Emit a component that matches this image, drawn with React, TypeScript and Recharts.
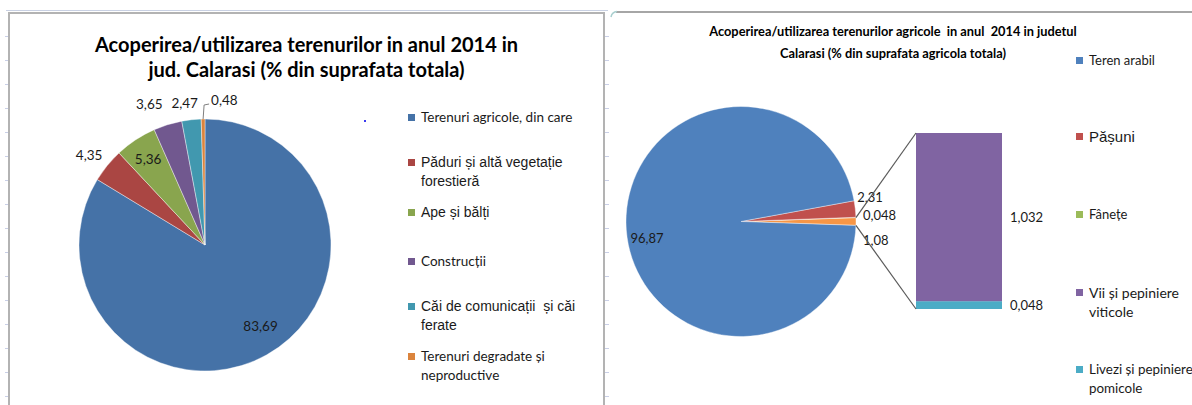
import { PieChart, Pie, Cell, BarChart, Bar, XAxis, YAxis, LabelList } from 'recharts';

// ── Data ──────────────────────────────────────────────────────────────────────

const landNames = [
    'Terenuri agricole, din care',
    'Păduri și altă vegetație forestieră',
    'Ape și bălți',
    'Construcții',
    'Căi de comunicații  și căi ferate',
    'Terenuri degradate și neproductive',
];
const landShares = [83.69, 4.35, 5.36, 3.65, 2.47, 0.48];
const landLegendLines = [
    ['Terenuri agricole, din care'],
    ['Păduri și altă vegetație', 'forestieră'],
    ['Ape și bălți'],
    ['Construcții'],
    ['Căi de comunicații  și căi', 'ferate'],
    ['Terenuri degradate și', 'neproductive'],
];

const agriNames = ['Teren arabil', 'Pășuni', 'Fânețe'];
const agriShares = [96.87, 2.31, 0.048];
const otherName = 'Altele';
const otherShare = 1.08;
const otherNames = ['Vii și pepiniere viticole', 'Livezi și pepiniere pomicole'];
const otherShares = [1.032, 0.048];
const agriLegendLines = [
    ['Teren arabil'],
    ['Pășuni'],
    ['Fânețe'],
    ['Vii și pepiniere', 'viticole'],
    ['Livezi și pepiniere', 'pomicole'],
];

const leftTitle = ['Acoperirea/utilizarea terenurilor in anul 2014 in', 'jud. Calarasi (% din suprafata totala)'];
const rightTitle = [
    'Acoperirea/utilizarea terenurilor agricole  in anul  2014 in judetul',
    'Calarasi (% din suprafata agricola totala)',
];

// ── Style ─────────────────────────────────────────────────────────────────────

const CALIBRI = 'Lato, "Open Sans", sans-serif';
const ARIAL = '"Liberation Sans", Arial, sans-serif';
const TEXT = '#1a1a1a';

const landColors = ['#4572A7', '#AA4643', '#89A54E', '#71588F', '#4198AF', '#DB843D'];
const agriColors = ['#4F81BD', '#C0504D', '#9BBB59'];
const otherColors = ['#8064A2', '#4BACC6'];
const otherSliceColor = '#F79646';

const fmt = (v: number) => String(v).replace('.', ',');
const RAD = Math.PI / 180;
const polar = (cx: number, cy: number, r: number, a: number) => ({
    x: cx + r * Math.cos(-a * RAD),
    y: cy + r * Math.sin(-a * RAD),
});

// ── Left chart ────────────────────────────────────────────────────────────────

const L = { left: 9, top: 13, width: 595, height: 392, cx: 196, cy: 232, r: 126 };

const landData = landNames.map((name, i) => ({ name, value: landShares[i] }));

const landLabelPos = [
    { k: 0.77, dx: 8, dy: -4 },
    { k: 1.165, dx: -2, dy: 3 },
    { k: 0.82, dx: 0, dy: 0 },
    { k: 1.2, dx: -11, dy: 3 },
    { k: 1.13, dx: -5, dy: 0 },
    { k: 1, dx: 0, dy: 0 },
];

function LandLabel(props: any) {
    const { cx, cy, midAngle, outerRadius, index, value } = props;
    const pos = landLabelPos[index];
    const p = polar(cx, cy, outerRadius * pos.k, midAngle);
    const style = { fontFamily: CALIBRI, fontSize: 13.5, fill: TEXT };
    if (index === landShares.length - 1) {
        // smallest slice gets a leader line
        return (
            <g>
                <polyline
                    points={`${p.x},${p.y} ${p.x + 1},${p.y - 14} ${p.x + 6},${p.y - 15}`}
                    fill="none"
                    stroke="#7f7f7f"
                    strokeWidth={1}
                />
                <text x={p.x + 8} y={p.y - 19} textAnchor="start" dominantBaseline="central" style={style}>
                    {fmt(value)}
                </text>
            </g>
        );
    }
    return (
        <text x={p.x + pos.dx} y={p.y + pos.dy} textAnchor="middle" dominantBaseline="central" style={style}>
            {fmt(value)}
        </text>
    );
}

// ── Right chart ───────────────────────────────────────────────────────────────

const R = { left: 614, top: 12, width: 578, height: 393, cx: 127, cy: 209.5, r: 115 };

// pie runs counter-clockwise from the "other" slice, which faces the bar
const agriPieData = [
    { name: otherName, value: otherShare, color: otherSliceColor },
    ...agriNames.map((name, i) => ({ name, value: agriShares[i], color: agriColors[i] })).reverse(),
];
const agriTotal = agriPieData.reduce((s, d) => s + d.value, 0);
const halfOther = (otherShare / agriTotal) * 180;

const agriLabelPos = [
    { k: 1, dx: 7, dy: 18.5, anchor: 'start' },
    { k: 1, dx: 7, dy: -2, anchor: 'start' },
    { k: 1, dx: 2, dy: -12, anchor: 'start' },
    { k: 0.82, dx: 0, dy: 9.5, anchor: 'middle' },
];

function AgriLabel(props: any) {
    const { cx, cy, midAngle, outerRadius, index, value } = props;
    const pos = agriLabelPos[index];
    const p = polar(cx, cy, outerRadius * pos.k, midAngle);
    return (
        <text
            x={p.x + pos.dx}
            y={p.y + pos.dy}
            textAnchor={pos.anchor}
            dominantBaseline="central"
            style={{ fontFamily: CALIBRI, fontSize: 13, fill: TEXT }}
        >
            {fmt(value)}
        </text>
    );
}

const barRow = [{ name: otherName, s0: otherShares[0], s1: otherShares[1] }];

// stacked segment + the connector to the pie's "other" slice
function makeSegment(edgeAngle: number, fromTop: boolean) {
    return (props: any) => {
        const { x, y, width, height, fill } = props;
        const p = polar(R.cx, R.cy, R.r, edgeAngle);
        const by = fromTop ? y : y + height;
        return (
            <g>
                <rect x={x} y={y} width={width} height={height} fill={fill} />
                <line x1={p.x} y1={p.y} x2={x} y2={by} stroke="#595959" strokeWidth={1.2} />
            </g>
        );
    };
}

// ── Legend ────────────────────────────────────────────────────────────────────

interface LegendEntry {
    lines: string[];
    color: string;
    font: string;
    size: number;
    y: number;
}

function HtmlLegend({ x, items }: { x: number; items: LegendEntry[] }) {
    return (
        <>
            {items.map((it, i) => (
                <div
                    key={i}
                    style={{
                        position: 'absolute',
                        left: x,
                        top: it.y - 9.5,
                        display: 'flex',
                        alignItems: 'flex-start',
                        fontFamily: it.font,
                        fontSize: it.size,
                        lineHeight: '19px',
                        color: TEXT,
                        whiteSpace: 'pre',
                    }}
                >
                    <span style={{ width: 7, height: 7, background: it.color, marginTop: 6, marginRight: 6, flex: 'none' }} />
                    <div>
                        {it.lines.map((ln, j) => (
                            <div key={j}>{ln}</div>
                        ))}
                    </div>
                </div>
            ))}
        </>
    );
}

const landLegend: LegendEntry[] = landLegendLines.map((lines, i) => ({
    lines,
    color: landColors[i],
    font: [CALIBRI, ARIAL, ARIAL, CALIBRI, ARIAL, CALIBRI][i],
    size: [13.5, 14, 14, 13.5, 14, 13.5][i],
    y: [117, 162, 212, 261, 306, 356][i],
}));

const agriLegend: LegendEntry[] = agriLegendLines.map((lines, i) => ({
    lines,
    color: [...agriColors, ...otherColors][i],
    font: [CALIBRI, ARIAL, CALIBRI, CALIBRI, CALIBRI][i],
    size: [13, 15, 13, 14, 13.4][i],
    y: [60, 136, 214, 292, 369][i],
}));

// ── Sheet decoration ──────────────────────────────────────────────────────────

const rowTicks = Array.from({ length: 16 }, (_, i) => 36 + i * 24);

function Sheet() {
    const line = (s: React.CSSProperties) => <div style={{ position: 'absolute', ...s }} />;
    return (
        <>
            {line({ left: 6, top: 10, width: 602, height: 1, background: '#c9d1e3' })}
            {line({ left: 8, top: 12, width: 597, height: 2, background: '#b3b3b3' })}
            {line({ left: 8, top: 12, width: 2, height: 393, background: '#b3b3b3' })}
            {line({ left: 603, top: 12, width: 2, height: 393, background: '#b3b3b3' })}
            {line({ left: 616, top: 11, width: 576, height: 1.5, background: '#a6a6a6' })}
            <svg style={{ position: 'absolute', left: 610, top: 10 }} width={8} height={8}>
                <path d="M1 7 Q2 2 7 1.6" fill="none" stroke="#a9cfcf" strokeWidth={1.5} />
            </svg>
            {rowTicks.map((y) => (
                <div key={`a${y}`}>
                    {line({ left: 5, top: y, width: 3, height: 1, background: '#c9cfe6' })}
                    {line({ left: 605, top: y, width: 4, height: 1, background: '#c9cfe6' })}
                </div>
            ))}
            {line({ left: 364, top: 120, width: 2, height: 2, background: '#3a3af0' })}
        </>
    );
}

// ── Page ──────────────────────────────────────────────────────────────────────

export default function App() {
    return (
        <div
            style={{
                position: 'absolute',
                left: 0,
                top: 0,
                width: 1192,
                height: 405,
                background: '#ffffff',
                overflow: 'hidden',
            }}
        >
            <Sheet />

            {/* left chart */}
            <div
                style={{
                    position: 'absolute',
                    left: L.left,
                    top: 32,
                    width: L.width,
                    textAlign: 'center',
                    fontFamily: CALIBRI,
                    fontWeight: 700,
                    fontSize: 20,
                    lineHeight: '25px',
                    color: '#000',
                }}
            >
                {leftTitle.map((t) => (
                    <div key={t}>{t}</div>
                ))}
            </div>
            <div style={{ position: 'absolute', left: L.left, top: L.top }}>
                <PieChart width={L.width} height={L.height} margin={{ top: 0, right: 0, bottom: 0, left: 0 }}>
                    <Pie
                        data={landData}
                        dataKey="value"
                        nameKey="name"
                        cx={L.cx}
                        cy={L.cy}
                        outerRadius={L.r}
                        startAngle={90}
                        endAngle={-270}
                        stroke="#ffffff"
                        strokeWidth={0.4}
                        label={LandLabel}
                        labelLine={false}
                        isAnimationActive={false}
                    >
                        {landData.map((d, i) => (
                            <Cell key={d.name} fill={landColors[i]} />
                        ))}
                    </Pie>
                </PieChart>
            </div>
            <HtmlLegend x={408} items={landLegend} />

            {/* right chart */}
            <div
                style={{
                    position: 'absolute',
                    left: R.left,
                    top: 20,
                    width: R.width - 20,
                    textAlign: 'center',
                    fontFamily: CALIBRI,
                    fontWeight: 700,
                    fontSize: 12.8,
                    lineHeight: '22px',
                    color: '#000',
                }}
            >
                {rightTitle.map((t) => (
                    <div key={t} style={{ whiteSpace: 'pre' }}>{t}</div>
                ))}
            </div>
            <div style={{ position: 'absolute', left: R.left, top: R.top }}>
                <PieChart width={R.width} height={R.height} margin={{ top: 0, right: 0, bottom: 0, left: 0 }}>
                    <Pie
                        data={agriPieData}
                        dataKey="value"
                        nameKey="name"
                        cx={R.cx}
                        cy={R.cy}
                        outerRadius={R.r}
                        startAngle={-halfOther}
                        endAngle={360 - halfOther}
                        stroke="#ffffff"
                        strokeWidth={0.4}
                        label={AgriLabel}
                        labelLine={false}
                        isAnimationActive={false}
                    >
                        {agriPieData.map((d) => (
                            <Cell key={d.name} fill={d.color} />
                        ))}
                    </Pie>
                </PieChart>
            </div>
            <div style={{ position: 'absolute', left: R.left, top: R.top, pointerEvents: 'none' }}>
                <BarChart
                    width={R.width}
                    height={R.height}
                    data={barRow}
                    margin={{ top: 121, right: 190, bottom: 96, left: 302 }}
                    barCategoryGap={0}
                >
                    <XAxis dataKey="name" type="category" hide />
                    <YAxis type="number" domain={[0, otherShare]} hide />
                    <Bar
                        dataKey="s1"
                        stackId="other"
                        fill={otherColors[1]}
                        shape={makeSegment(-halfOther, false)}
                        isAnimationActive={false}
                    >
                        <LabelList
                            dataKey="s1"
                            position="right"
                            offset={8}
                            formatter={(v: any) => fmt(Number(v))}
                            style={{ fontFamily: CALIBRI, fontSize: 13, fill: TEXT }}
                        />
                    </Bar>
                    <Bar
                        dataKey="s0"
                        stackId="other"
                        fill={otherColors[0]}
                        shape={makeSegment(halfOther, true)}
                        isAnimationActive={false}
                    >
                        <LabelList
                            dataKey="s0"
                            position="right"
                            offset={8}
                            formatter={(v: any) => fmt(Number(v))}
                            style={{ fontFamily: CALIBRI, fontSize: 13, fill: TEXT }}
                        />
                    </Bar>
                </BarChart>
            </div>
            <HtmlLegend x={1076} items={agriLegend} />
        </div>
    );
}
